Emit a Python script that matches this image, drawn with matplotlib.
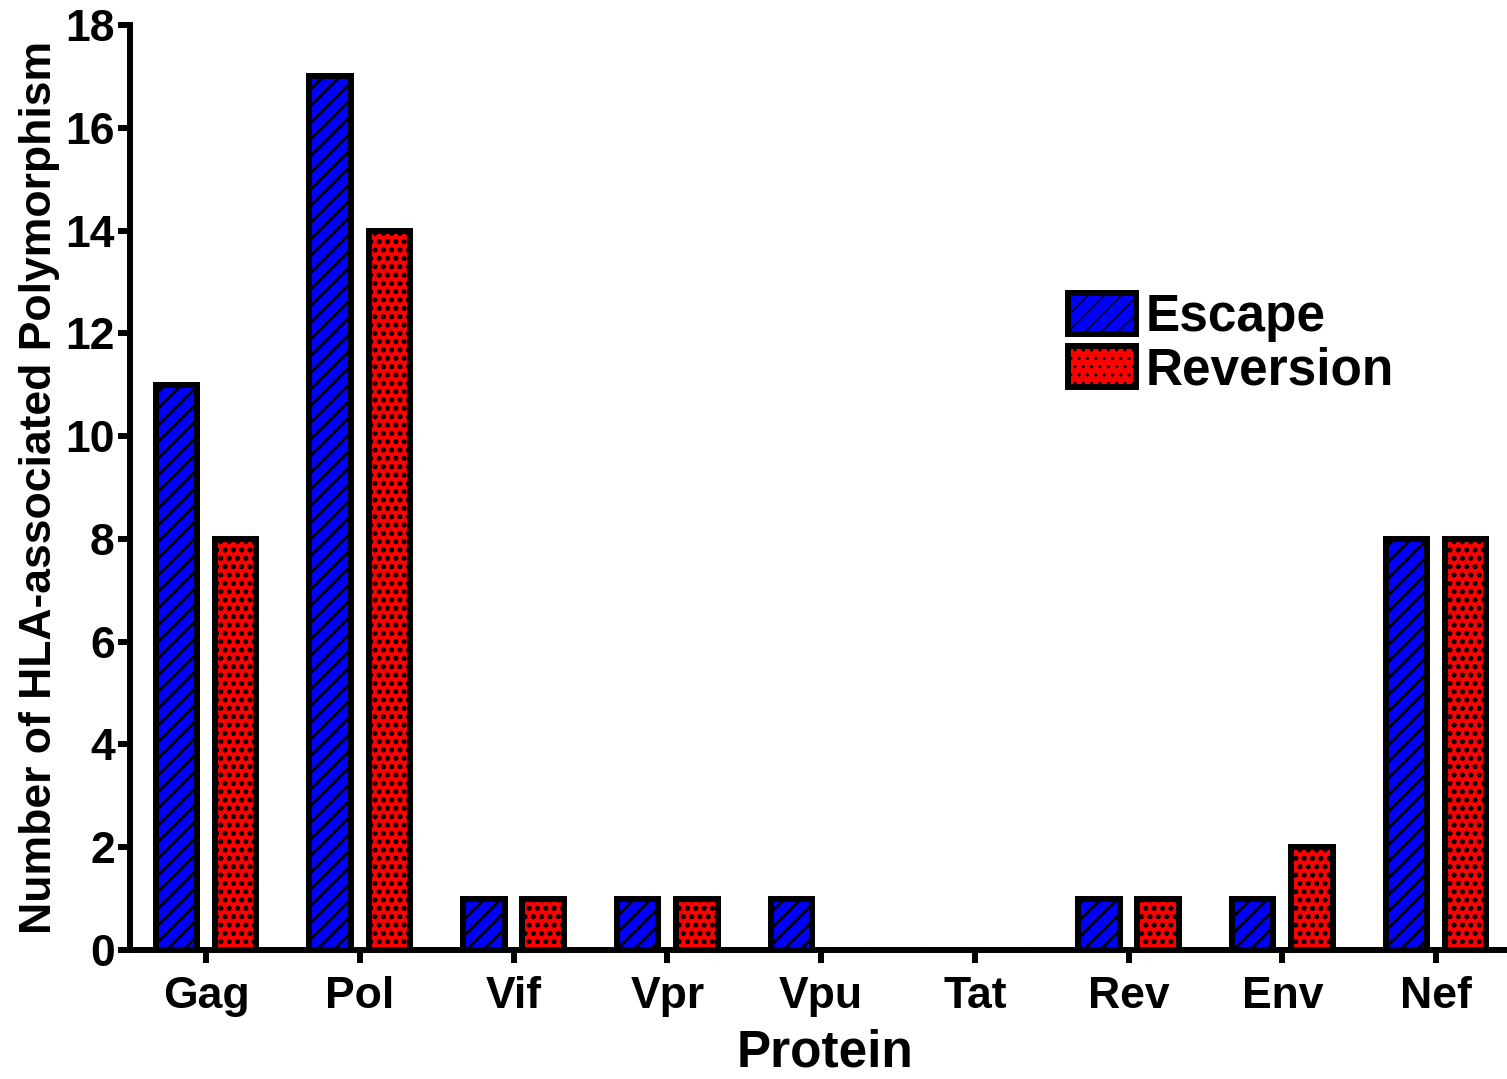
import numpy as np
import matplotlib
matplotlib.use('Agg')
import matplotlib.pyplot as plt

proteins = ['Gag', 'Pol', 'Vif', 'Vpr', 'Vpu', 'Tat', 'Rev', 'Env', 'Nef']
escape = [11, 17, 1, 1, 1, 0, 1, 1, 8]
reversion = [8, 14, 1, 1, 0, 0, 1, 2, 8]

plt.rcParams['font.family'] = ['Liberation Sans', 'DejaVu Sans']
plt.rcParams['font.weight'] = 'bold'

fig = plt.figure(figsize=(15.07, 10.79), dpi=100)
ax = fig.add_axes([0.0863, 0.1195, 0.9124, 0.8573])

x = np.arange(len(proteins))
w = 0.27
off = 0.192
lw = 4.3
with plt.rc_context({'hatch.linewidth': 2.0}):
    ax.bar(x - off, escape, w, color='#0000ff', edgecolor='black', linewidth=lw,
           hatch='//', label='Escape', zorder=3)
with plt.rc_context({'hatch.linewidth': 2.4}):
    ax.bar(x + off, reversion, w, color='#ff0000', edgecolor='black', linewidth=lw,
           hatch='..', label='Reversion', zorder=3)

ax.set_xlim(-0.494, 8.449)
ax.set_ylim(0, 18)
ax.set_yticks(np.arange(0, 19, 2))
ax.set_xticks(x)
ax.set_xticklabels(proteins)

for s in ['top', 'right']:
    ax.spines[s].set_visible(False)
for s in ['left', 'bottom']:
    ax.spines[s].set_linewidth(lw)
ax.tick_params(axis='both', width=lw, length=9, labelsize=32, direction='out')
ax.tick_params(axis='x', pad=10)
ax.tick_params(axis='y', pad=2)

ax.set_xlabel('Protein', fontsize=37, fontweight='bold', labelpad=8)
ax.xaxis.label.set_x(0.5055)
ax.set_ylabel('Number of HLA-associated Polymorphism', fontsize=32, fontweight='bold', labelpad=4)

ax.legend(loc='upper left', bbox_to_anchor=(0.7087, 0.7285), bbox_transform=fig.transFigure,
          frameon=False, fontsize=37, handlelength=1.32, handleheight=0.85,
          handletextpad=0.2, labelspacing=0.08, borderaxespad=0, borderpad=0)

fig.savefig('out.png', dpi=100)
